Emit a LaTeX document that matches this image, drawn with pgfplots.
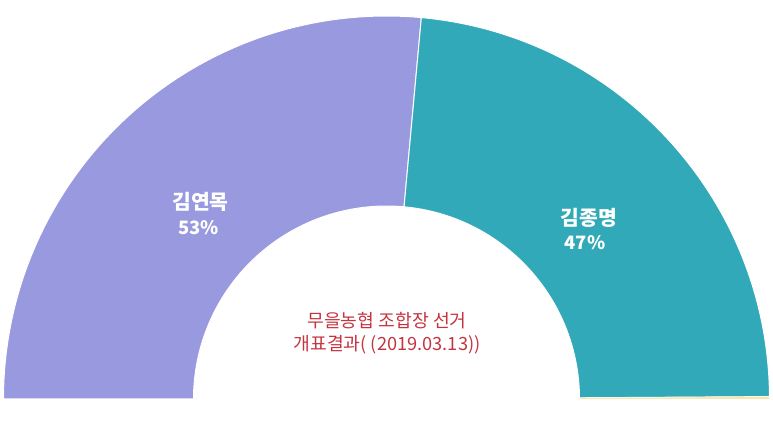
\documentclass[border=0pt]{standalone}
\usepackage{fontspec}
\setmainfont{Noto Sans CJK KR}
\usepackage{pgfplots}
\usepackage{pgfplotstable}
\pgfplotsset{compat=1.18}

\definecolor{slicea}{HTML}{9999DF}
\definecolor{sliceb}{HTML}{31A9B8}
\definecolor{slicec}{HTML}{FCE3A6}
\definecolor{titlered}{HTML}{C4343F}

% vote shares (semi-donut)
\pgfplotstableread{
name value
A 52.9
B 46.9
C 0.2
}\votes

\begin{document}
\begin{tikzpicture}
\pgfplotstablegetelem{0}{value}\of\votes \let\va\pgfplotsretval
\pgfplotstablegetelem{1}{value}\of\votes \let\vb\pgfplotsretval
\pgfplotstablegetelem{2}{value}\of\votes \let\vc\pgfplotsretval
\pgfmathsetmacro\total{\va+\vb+\vc}
\pgfmathsetmacro\angA{180-180*\va/\total}
\pgfmathsetmacro\angB{\angA-180*\vb/\total}
\def\ro{383}
\def\ri{193}
\begin{axis}[
	hide axis, scale only axis,
	width=773bp, height=426bp,
	xmin=-386.5, xmax=386.5, ymin=-27, ymax=399,
	clip=false]
	\path (axis cs:-386.5,-27) rectangle (axis cs:386.5,399);
	\fill[slicea, draw=white, line width=1bp]
		(axis cs:{\ro*cos(180)},{\ro*sin(180)}) arc[start angle=180, end angle=\angA, radius=\ro bp]
		-- (axis cs:{\ri*cos(\angA)},{\ri*sin(\angA)}) arc[start angle=\angA, end angle=180, radius=\ri bp] -- cycle;
	\fill[sliceb, draw=white, line width=1bp]
		(axis cs:{\ro*cos(\angA)},{\ro*sin(\angA)}) arc[start angle=\angA, end angle=\angB, radius=\ro bp]
		-- (axis cs:{\ri*cos(\angB)},{\ri*sin(\angB)}) arc[start angle=\angB, end angle=\angA, radius=\ri bp] -- cycle;
	\fill[slicec, draw=white, line width=0.4bp]
		(axis cs:{\ro*cos(\angB)},{\ro*sin(\angB)}) arc[start angle=\angB, end angle=0, radius=\ro bp]
		-- (axis cs:{\ri},0) arc[start angle=0, end angle=\angB, radius=\ri bp] -- cycle;
	\node[white, font=\fontsize{20.5}{20.5}\selectfont\bfseries] at (axis cs:-186,197) {김연목};
	\node[white, font=\fontsize{18.5}{18.5}\selectfont\bfseries] at (axis cs:-188,171) {53\%};
	\node[white, font=\fontsize{20.5}{20.5}\selectfont\bfseries] at (axis cs:202.5,181) {김종명};
	\node[white, font=\fontsize{18.5}{18.5}\selectfont\bfseries] at (axis cs:198.5,156) {47\%};
	\node[titlered, font=\fontsize{18.3}{23}\selectfont, align=center] at (axis cs:0.5,65.5) {무을농협 조합장 선거\\개표결과( (2019.03.13))};
\end{axis}
\end{tikzpicture}
\end{document}
